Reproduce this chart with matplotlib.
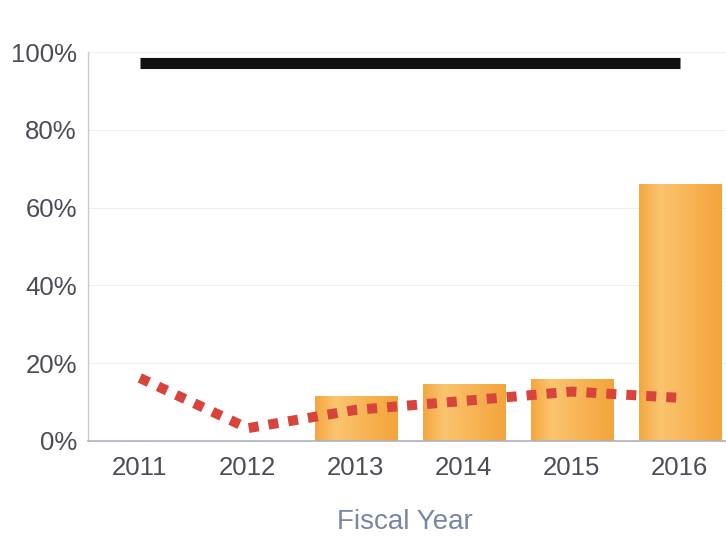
import matplotlib
matplotlib.use("Agg")
import matplotlib.pyplot as plt
import numpy as np
from matplotlib.colors import LinearSegmentedColormap

# Data
years = ["2011", "2012", "2013", "2014", "2015", "2016"]
actual = [0.0, 0.0, 11.6, 14.7, 15.9, 66.1]      # bars (%)
target = [97.3, 97.3, 97.3, 97.3, 97.3, 97.3]     # solid black line (%)
benchmark = [16.2, 3.3, 8.0, 10.3, 12.7, 11.1]    # red dotted line (%)
y_ticks = [0, 20, 40, 60, 80, 100]

plt.rcParams["font.family"] = ["Liberation Sans", "DejaVu Sans"]

fig = plt.figure(figsize=(7.26, 5.38), dpi=100)
ax = fig.add_axes([88 / 726, 97 / 538, 1 - 88 / 726, (441 - 52) / 538])

x = np.arange(len(years))
bar_w = 0.76

# light horizontal gridlines
for t in y_ticks[1:]:
    ax.axhline(t, color="#eeeeee", lw=0.8, zorder=0)

# bars with a soft horizontal orange gradient
bars = ax.bar(x, actual, width=bar_w, color="#f7b04a", zorder=2)
grad_cmap = LinearSegmentedColormap.from_list(
    "bar", ["#f4a63e", "#fac470", "#f8b95c", "#f6ae4a", "#f3a43c"])
grad = np.linspace(0, 1, 256).reshape(1, -1)
for b in bars:
    h = b.get_height()
    if h <= 0:
        continue
    x0 = b.get_x()
    im = ax.imshow(grad, cmap=grad_cmap, aspect="auto",
                   extent=(x0, x0 + b.get_width(), 0, h), zorder=2.1,
                   interpolation="bicubic")
    im.set_clip_path(b)
ax.set_xlim(-0.48, 5.43)
ax.set_ylim(0, 100)

# benchmark dotted line
ax.plot(x, benchmark, color="#d8433b", lw=7.2, linestyle=(0, (1, 1)),
        dash_capstyle="butt", solid_joinstyle="round", zorder=4)

# target line
ax.plot(x, target, color="#111111", lw=8.0, solid_capstyle="butt", zorder=4)

# axes styling
for s in ["top", "right"]:
    ax.spines[s].set_visible(False)
ax.spines["left"].set_color("#c8cad4")
ax.spines["left"].set_linewidth(1.0)
ax.spines["bottom"].set_color("#aeb2c0")
ax.spines["bottom"].set_linewidth(1.2)

ax.set_yticks(y_ticks)
ax.set_yticklabels([f"{t}%" for t in y_ticks])
ax.set_xticks(x)
ax.set_xticklabels(years)
ax.tick_params(axis="both", length=0, labelsize=18.5, labelcolor="#4c4c58")
ax.tick_params(axis="y", pad=8)
ax.tick_params(axis="x", pad=11)

ax.set_xlabel("Fiscal Year", fontsize=20, color="#7a86a6")
ax.xaxis.label.set_va("center")
ax.xaxis.set_label_coords((405 - 88) / (726 - 88), -(522 - 441) / 389)

fig.savefig("out.png", dpi=100)
